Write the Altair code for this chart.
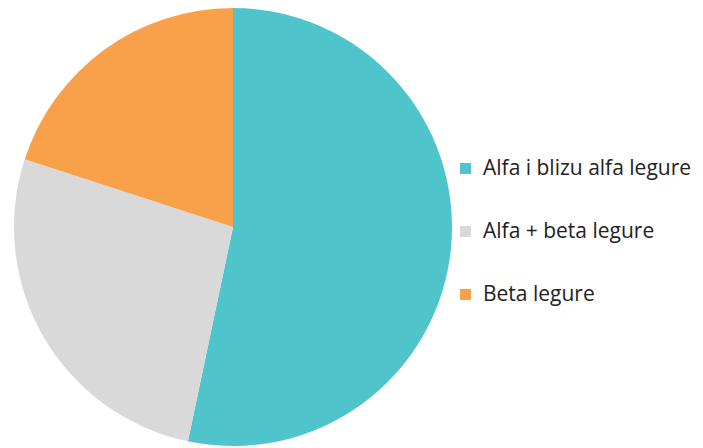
import altair as alt
import pandas as pd

categories = ["Alfa i blizu alfa legure", "Alfa + beta legure", "Beta legure"]
values = [53.3, 26.7, 20.0]
colors = ["#4fc4ca", "#d9d9d9", "#f9a04b"]

df = pd.DataFrame({"kategorija": categories, "udio": values, "red": list(range(len(categories)))})

chart = alt.Chart(df).mark_arc(radius=219, stroke=None).encode(
    theta=alt.Theta("udio:Q", stack=True),
    order=alt.Order("red:Q"),
    color=alt.Color(
        "kategorija:N",
        scale=alt.Scale(domain=categories, range=colors),
        sort=categories,
        legend=alt.Legend(
            title=None,
            orient="none",
            legendX=447,
            legendY=150,
            symbolType="square",
            symbolSize=121,
            symbolStrokeWidth=0,
            labelFontSize=21,
            labelFont="Open Sans",
            labelColor="#222222",
            labelOffset=7,
            rowPadding=41,
            labelLimit=300,
        ),
    ),
).properties(
    width=450,
    height=438,
    padding={"left": 0, "top": 0, "right": 237, "bottom": 2},
    autosize=alt.AutoSizeParams(type="none"),
).configure_view(stroke=None)

chart.save("out.html", embed_options={"renderer": "svg", "actions": False})
